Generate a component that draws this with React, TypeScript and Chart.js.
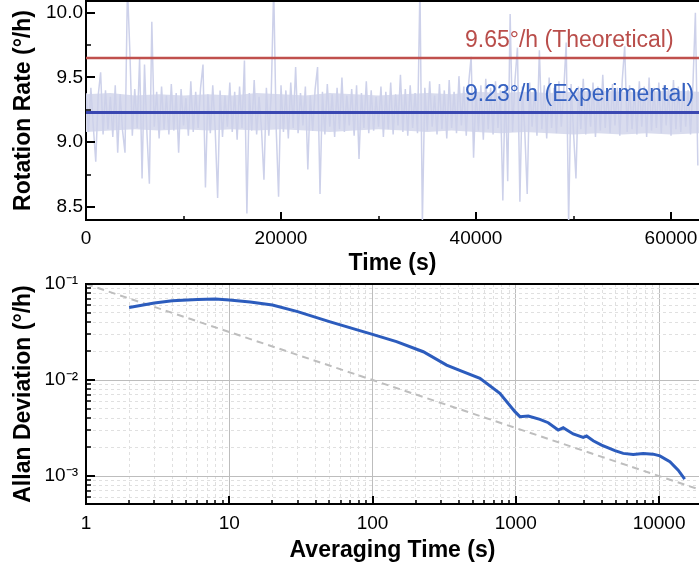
import React, { useEffect, useRef } from 'react';
import { Chart, registerables } from 'chart.js';

Chart.register(...registerables);

const FONT = "'Liberation Sans', Arial, Helvetica, sans-serif";

// ---------- Top panel: rotation rate time series ----------
const SAMPLE_INTERVAL_S = 250;
const rotationRate = [
  9.38, 9.08, 9.42, 9.12, 8.85, 9.36, 9.54, 9.06, 9.40, 9.10, 9.35, 9.04,
  9.44, 8.92, 9.37, 9.09, 8.92, 10.20, 9.70, 9.05, 9.41, 9.11, 9.65, 8.72,
  9.60, 9.07, 8.68, 9.93, 9.12, 9.39, 9.03, 9.43, 9.10, 9.36, 9.06, 9.45,
  9.09, 9.38, 8.92, 9.41, 9.13, 9.34, 9.05, 9.47, 9.08, 9.39, 9.11, 9.42,
  9.60, 8.65, 9.37, 9.07, 9.44, 9.10, 8.57, 9.40, 9.04, 9.36, 9.12, 9.46,
  9.08, 9.39, 9.02, 9.43, 9.11, 9.63, 8.45, 9.38, 9.09, 9.48, 9.06, 9.35,
  9.10, 8.71, 9.42, 9.05, 9.37, 10.20, 9.12, 8.58, 9.44, 9.08, 9.40, 9.03,
  9.46, 9.11, 9.58, 9.07, 9.38, 9.13, 9.43, 8.79, 9.36, 9.09, 9.41, 9.58,
  8.60, 9.39, 9.06, 9.45, 9.12, 9.37, 9.04, 9.42, 9.10, 9.50, 9.08, 9.36,
  9.13, 9.41, 9.05, 9.44, 8.87, 9.38, 9.11, 9.47, 9.07, 9.40, 9.09, 9.35,
  9.12, 9.43, 9.04, 9.39, 9.10, 9.46, 9.06, 9.37, 9.13, 9.52, 9.08, 9.41,
  9.05, 9.44, 9.11, 9.38, 9.07, 10.20, 8.38, 9.42, 9.09, 9.47, 9.12, 9.36,
  9.06, 9.45, 9.10, 9.40, 9.03, 9.48, 9.11, 9.39, 9.07, 9.51, 9.13, 9.43,
  9.05, 9.46, 9.66, 8.88, 9.41, 9.09, 9.44, 9.02, 9.49, 9.10, 9.42, 9.06,
  9.47, 9.11, 9.40, 8.55, 9.45, 8.70, 9.99, 9.08, 9.48, 9.73, 8.54, 9.43,
  9.09, 8.60, 9.46, 9.12, 9.41, 9.05, 9.71, 9.10, 9.44, 9.03, 9.50, 9.11,
  9.42, 9.07, 9.47, 9.12, 9.40, 9.77, 8.38, 9.45, 9.08, 8.72, 9.43, 9.10,
  9.49, 9.06, 9.41, 9.12, 9.46, 9.04, 9.43, 9.09, 9.52, 9.11, 9.40, 9.07,
  9.45, 9.13, 9.42, 9.05, 9.48, 9.74, 9.08, 9.44, 9.10, 9.41, 9.06, 9.47,
  9.12, 9.43, 9.04, 9.50, 9.09, 9.42, 9.11, 9.46, 9.07, 9.44, 9.13, 9.41,
  9.05, 9.48, 9.10, 9.43, 9.08, 9.46, 9.12, 9.40, 9.06, 9.45, 10.00, 8.82,
];
// dense core of the noise band, every 2500 s
const bandTime = [
  0, 2500, 5000, 7500, 10000, 12500, 15000, 17500, 20000, 22500, 25000, 27500, 30000,
  32500, 35000, 37500, 40000, 42500, 45000, 47500, 50000, 52500, 55000, 57500, 60000, 62870,
];
const bandUpper = [
  9.37, 9.38, 9.36, 9.37, 9.36, 9.37, 9.36, 9.38, 9.37, 9.36, 9.38, 9.37, 9.36,
  9.37, 9.38, 9.37, 9.39, 9.38, 9.39, 9.38, 9.39, 9.40, 9.39, 9.39, 9.40, 9.39,
];
const bandLower = [
  9.08, 9.09, 9.10, 9.09, 9.10, 9.09, 9.10, 9.09, 9.10, 9.09, 9.08, 9.09, 9.10,
  9.09, 9.08, 9.09, 9.08, 9.07, 9.08, 9.07, 9.06, 9.07, 9.06, 9.07, 9.06, 9.07,
];
const theoreticalRate = 9.65;
const experimentalRate = 9.23;
const theoreticalLabel = '9.65°/h (Theoretical)';
const experimentalLabel = '9.23°/h (Experimental)';
const timeTicks = [0, 10000, 20000, 30000, 40000, 50000, 60000];
const timeLabelTicks = [0, 20000, 40000, 60000];
const rateTicks = [8.5, 8.75, 9.0, 9.25, 9.5, 9.75, 10.0];
const rateLabelTicks = [8.5, 9.0, 9.5, 10.0];
const TIME_MIN = 0;
const TIME_MAX = 62870;
const RATE_MIN = 8.4;
const RATE_MAX = 10.09;
const LABEL_TIME = 38870;

// ---------- Bottom panel: Allan deviation ----------
const averagingTime = [
  2, 3, 4, 6, 8, 10, 14, 20, 30, 50, 86, 100, 147, 226, 329, 410, 562, 774,
  986, 1068, 1222, 1473, 1684, 1977, 2142, 2516, 2954, 3118, 3470, 3970,
  4920, 5620, 6600, 7750, 9100, 10130, 11900, 13600, 15100,
];
const allanDeviation = [
  0.0570, 0.0635, 0.0670, 0.0690, 0.0698, 0.0680, 0.0650, 0.0604, 0.0515,
  0.0405, 0.0319, 0.0299, 0.0251, 0.0197, 0.0143, 0.0125, 0.0104, 0.00726,
  0.00468, 0.00415, 0.00422, 0.00389, 0.00359, 0.00301, 0.00318, 0.00274,
  0.00253, 0.00261, 0.00233, 0.00210, 0.00184, 0.00172, 0.00168, 0.00172,
  0.00169, 0.00162, 0.00141, 0.00115, 0.00093,
];
const referenceTime = [1, 19000];
const referenceDeviation = [0.1, 0.000725];
const tauTicks = [
  1, 2, 3, 4, 5, 6, 7, 8, 9,
  10, 20, 30, 40, 50, 60, 70, 80, 90,
  100, 200, 300, 400, 500, 600, 700, 800, 900,
  1000, 2000, 3000, 4000, 5000, 6000, 7000, 8000, 9000,
  10000,
];
const tauLabelTicks = [1, 10, 100, 1000, 10000];
const adevTicks = [
  0.0006, 0.0007, 0.0008, 0.0009,
  0.001, 0.002, 0.003, 0.004, 0.005, 0.006, 0.007, 0.008, 0.009,
  0.01, 0.02, 0.03, 0.04, 0.05, 0.06, 0.07, 0.08, 0.09,
  0.1,
];
const adevLabelTicks = [0.001, 0.01, 0.1];
const TAU_MIN = 1;
const TAU_MAX = 19000;
const ADEV_MIN = 0.000511;
const ADEV_MAX = 0.1;

const SUP: Record<string, string> = {
  '-': '⁻', '0': '⁰', '1': '¹', '2': '²', '3': '³', '4': '⁴',
  '5': '⁵', '6': '⁶', '7': '⁷', '8': '⁸', '9': '⁹',
};

const near = (a: number, b: number) => Math.abs(a - b) <= Math.abs(b) * 1e-6 + 1e-12;
const inList = (v: number, list: number[]) => list.some((x) => near(v, x));

function drawFrame(
  chart: any,
  xList: number[],
  xMajor: number[],
  yList: number[],
  yMajor: number[],
) {
  const ctx = chart.ctx as CanvasRenderingContext2D;
  const { left, right, top, bottom } = chart.chartArea;
  const xs = chart.scales.x;
  const ys = chart.scales.y;
  ctx.save();
  ctx.strokeStyle = '#000000';
  ctx.setLineDash([]);
  xList.forEach((v) => {
    const major = inList(v, xMajor);
    const p = Math.round(xs.getPixelForValue(v));
    ctx.lineWidth = major ? 2 : 1.5;
    ctx.beginPath();
    ctx.moveTo(p, bottom);
    ctx.lineTo(p, bottom - (major ? 8 : 4));
    ctx.stroke();
  });
  yList.forEach((v) => {
    const major = inList(v, yMajor);
    const p = Math.round(ys.getPixelForValue(v));
    ctx.lineWidth = major ? 2 : 1.5;
    ctx.beginPath();
    ctx.moveTo(left, p);
    ctx.lineTo(left + (major ? 9 : 5), p);
    ctx.stroke();
  });
  ctx.lineWidth = 2;
  ctx.beginPath();
  ctx.moveTo(left - 1, top);
  ctx.lineTo(right, top);
  ctx.stroke();
  ctx.restore();
}

const topDecor = {
  id: 'topDecor',
  afterDatasetsDraw(chart: any) {
    const ctx = chart.ctx as CanvasRenderingContext2D;
    const xs = chart.scales.x;
    const ys = chart.scales.y;
    const x = xs.getPixelForValue(LABEL_TIME);
    ctx.save();
    ctx.font = `23px ${FONT}`;
    ctx.textAlign = 'left';
    ctx.textBaseline = 'alphabetic';
    ctx.fillStyle = '#b94d4a';
    ctx.fillText(theoreticalLabel, x, ys.getPixelForValue(theoreticalRate) - 11);
    ctx.fillStyle = '#3561c1';
    ctx.fillText(experimentalLabel, x, ys.getPixelForValue(experimentalRate) - 11);
    ctx.restore();
    drawFrame(chart, timeTicks, timeLabelTicks, rateTicks, rateLabelTicks);
  },
};

const bottomDecor = {
  id: 'bottomDecor',
  afterDatasetsDraw(chart: any) {
    drawFrame(chart, tauTicks, tauLabelTicks, adevTicks, adevLabelTicks);
  },
};

const tickFont = { family: FONT, size: 19 };
const titleFont = { family: FONT, size: 23, weight: 'bold' as const };
const BAND_FILL = '#d9dcee';
const BAND_LINE = '#cdd1ea';

export default function App() {
  const topRef = useRef<HTMLCanvasElement>(null);
  const botRef = useRef<HTMLCanvasElement>(null);

  useEffect(() => {
    const ratePoints = rotationRate.map((v, i) => ({ x: i * SAMPLE_INTERVAL_S, y: v }));

    const top = new Chart(topRef.current!, {
      type: 'line',
      data: {
        datasets: [
          {
            data: bandTime.map((t, i) => ({ x: t, y: bandUpper[i] })),
            borderWidth: 0,
            borderColor: 'rgba(0,0,0,0)',
            backgroundColor: BAND_FILL,
            pointRadius: 0,
            fill: '+1',
            order: 4,
          },
          {
            data: bandTime.map((t, i) => ({ x: t, y: bandLower[i] })),
            borderWidth: 0,
            borderColor: 'rgba(0,0,0,0)',
            pointRadius: 0,
            fill: false,
            order: 5,
          },
          {
            data: ratePoints,
            borderColor: BAND_LINE,
            borderWidth: 1.5,
            pointRadius: 0,
            tension: 0,
            fill: false,
            order: 2,
          },
          {
            data: [{ x: TIME_MIN, y: theoreticalRate }, { x: TIME_MAX, y: theoreticalRate }],
            borderColor: '#c0504d',
            borderWidth: 2.5,
            pointRadius: 0,
            fill: false,
            order: 1,
          },
          {
            data: [{ x: TIME_MIN, y: experimentalRate }, { x: TIME_MAX, y: experimentalRate }],
            borderColor: '#3a47b2',
            borderWidth: 3,
            pointRadius: 0,
            fill: false,
            order: 0,
          },
        ],
      },
      options: {
        animation: false,
        responsive: false,
        maintainAspectRatio: false,
        layout: { padding: { top: 1, left: 0, right: 0, bottom: 0 } },
        plugins: { legend: { display: false }, tooltip: { enabled: false } },
        scales: {
          x: {
            type: 'linear',
            min: TIME_MIN,
            max: TIME_MAX,
            grid: { display: false, drawTicks: false },
            border: { display: true, color: '#000', width: 2 },
            afterBuildTicks: (s: any) => {
              s.ticks = timeTicks.map((v) => ({ value: v }));
            },
            ticks: {
              autoSkip: false,
              maxRotation: 0,
              padding: 7,
              color: '#000',
              font: tickFont,
              callback: (v: any) => (inList(Number(v), timeLabelTicks) ? String(v) : ''),
            },
            title: {
              display: true,
              text: 'Time (s)',
              color: '#000',
              font: titleFont,
              padding: { top: 0, bottom: 3 },
            },
            afterFit: (s: any) => {
              s.height = 60;
              s.paddingLeft = 0;
              s.paddingRight = 0;
            },
          },
          y: {
            type: 'linear',
            min: RATE_MIN,
            max: RATE_MAX,
            grid: { display: false, drawTicks: false },
            border: { display: true, color: '#000', width: 2 },
            afterBuildTicks: (s: any) => {
              s.ticks = rateTicks.map((v) => ({ value: v }));
            },
            ticks: {
              autoSkip: false,
              padding: 3,
              color: '#000',
              font: tickFont,
              callback: (v: any) => (inList(Number(v), rateLabelTicks) ? Number(v).toFixed(1) : ''),
            },
            title: {
              display: true,
              text: 'Rotation Rate (°/h)',
              color: '#000',
              font: titleFont,
              padding: { top: 10, bottom: 0 },
            },
            afterFit: (s: any) => {
              s.width = 86;
              s.paddingTop = 0;
              s.paddingBottom = 0;
            },
          },
        },
      },
      plugins: [topDecor],
    });

    const logGridColor = (ctx: any) => {
      const v = ctx.tick ? ctx.tick.value : 0;
      return inList(v, tauLabelTicks) || inList(v, adevLabelTicks) ? '#bdbdbd' : '#e0e0e0';
    };
    const xDash = (ctx: any) => {
      if (ctx.type !== 'tick' || !ctx.tick) return [];
      return inList(ctx.tick.value, tauLabelTicks) ? [] : [3, 3];
    };
    const yDash = (ctx: any) => {
      if (ctx.type !== 'tick' || !ctx.tick) return [];
      return inList(ctx.tick.value, adevLabelTicks) ? [] : [3, 3];
    };

    const bot = new Chart(botRef.current!, {
      type: 'line',
      data: {
        datasets: [
          {
            data: averagingTime.map((t, i) => ({ x: t, y: allanDeviation[i] })),
            borderColor: '#2c5cbd',
            borderWidth: 3,
            pointRadius: 0,
            tension: 0,
            order: 0,
          },
          {
            data: referenceTime.map((t, i) => ({ x: t, y: referenceDeviation[i] })),
            borderColor: '#bebebe',
            borderWidth: 2,
            borderDash: [7, 5],
            pointRadius: 0,
            order: 1,
          },
        ],
      },
      options: {
        animation: false,
        responsive: false,
        maintainAspectRatio: false,
        layout: { padding: { top: 24, left: 0, right: 0, bottom: 0 } },
        plugins: { legend: { display: false }, tooltip: { enabled: false } },
        scales: {
          x: {
            type: 'logarithmic',
            min: TAU_MIN,
            max: TAU_MAX,
            grid: { display: true, drawTicks: false, color: logGridColor, lineWidth: 1 },
            border: { display: true, color: '#000', width: 2, dash: xDash },
            afterBuildTicks: (s: any) => {
              s.ticks = tauTicks.map((v) => ({ value: v }));
            },
            ticks: {
              autoSkip: false,
              maxRotation: 0,
              padding: 8.5,
              color: '#000',
              font: tickFont,
              callback: (v: any) => (inList(Number(v), tauLabelTicks) ? String(Math.round(Number(v))) : ''),
            },
            title: {
              display: true,
              text: 'Averaging Time (s)',
              color: '#000',
              font: titleFont,
              padding: { top: 0, bottom: 6.4 },
            },
            afterFit: (s: any) => {
              s.height = 67;
              s.paddingLeft = 0;
              s.paddingRight = 0;
            },
          },
          y: {
            type: 'logarithmic',
            min: ADEV_MIN,
            max: ADEV_MAX,
            grid: { display: true, drawTicks: false, color: logGridColor, lineWidth: 1 },
            border: { display: true, color: '#000', width: 2, dash: yDash },
            afterBuildTicks: (s: any) => {
              s.ticks = adevTicks.map((v) => ({ value: v }));
            },
            ticks: {
              autoSkip: false,
              padding: 8,
              color: '#000',
              font: tickFont,
              callback: (v: any) => {
                const n = Number(v);
                if (!inList(n, adevLabelTicks)) return '';
                const e = String(Math.round(Math.log10(n)));
                return '10' + e.split('').map((c) => SUP[c] || c).join('');
              },
            },
            title: {
              display: true,
              text: 'Allan Deviation (°/h)',
              color: '#000',
              font: titleFont,
              padding: { top: 10, bottom: 0 },
            },
            afterFit: (s: any) => {
              s.width = 86;
              s.paddingTop = 0;
              s.paddingBottom = 0;
            },
          },
        },
      },
      plugins: [bottomDecor],
    });

    return () => {
      top.destroy();
      bot.destroy();
    };
  }, []);

  return (
    <div style={{ position: 'fixed', left: 0, top: 0, width: 699, height: 571, background: '#fff' }}>
      <canvas
        ref={topRef}
        width={699}
        height={280}
        style={{ position: 'absolute', left: 0, top: 0, width: 699, height: 280 }}
      />
      <canvas
        ref={botRef}
        width={699}
        height={311}
        style={{ position: 'absolute', left: 0, top: 260, width: 699, height: 311 }}
      />
    </div>
  );
}
